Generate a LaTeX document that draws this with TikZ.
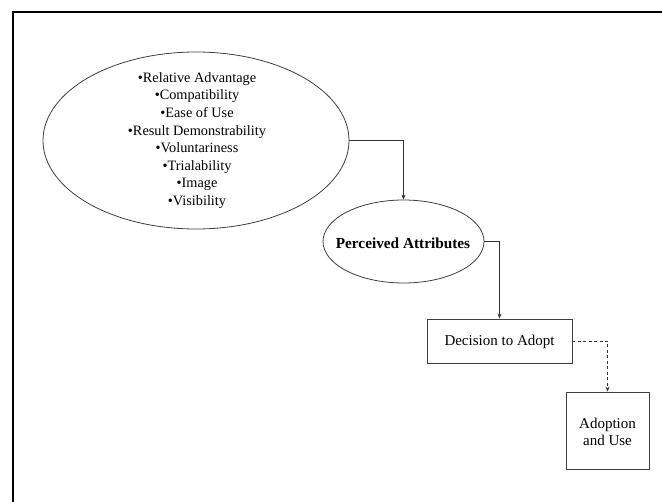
\documentclass[tikz,border=0pt]{standalone}
\usepackage{fontspec}
\setmainfont{Liberation Serif}
\usetikzlibrary{arrows.meta,shapes.geometric}
\begin{document}
\begin{tikzpicture}[x=1pt,y=-1pt,
  lbl/.style={font=\fontsize{14.3}{17.6}\selectfont, align=center},
  oval/.style={draw=black!75, line width=0.8pt, ellipse, inner sep=0pt},
  boxnode/.style={draw=black!75, line width=0.8pt, inner sep=0pt},
  conn/.style={draw=black!80, line width=0.7pt, -{Stealth[length=5pt,width=4pt]}},
  dconn/.style={conn, dash pattern=on 3pt off 2.5pt}]
\useasboundingbox (0,0) rectangle (662,502);
\fill[white] (0,0) rectangle (662,502);
\draw[line width=2.2pt] (13,502) -- (13,12) -- (662,12);
\node[oval, minimum width=306pt, minimum height=177pt] (attrs) at (196,140.5) {};
\node[lbl] (list) at (197,140.5) {%
\textbullet Relative Advantage\\
\textbullet Compatibility\\
\textbullet Ease of Use\\
\textbullet Result Demonstrability\\
\textbullet Voluntariness\\
\textbullet Trialability\\
\textbullet Image\\
\textbullet Visibility};
\node[oval, minimum width=161pt, minimum height=83pt] (pa) at (403.5,241.5) {};
\node[font=\fontsize{15.3}{17}\selectfont\bfseries] (patext) at (403,243) {Perceived Attributes};
\node[boxnode, minimum width=145pt, minimum height=44pt] (dec) at (499.5,341) {};
\node[lbl, font=\fontsize{15}{17.6}\selectfont] (dectext) at (499.5,342) {Decision to Adopt};
\node[boxnode, minimum width=83pt, minimum height=77pt] (adopt) at (607.5,430.5) {};
\node[lbl, font=\fontsize{15}{17.6}\selectfont] (adopttext) at (607.5,432) {Adoption\\and Use};
\draw[conn] (attrs.east) -| (pa.north);
\draw[conn] (pa.east) -| (dec.north);
\draw[dconn] (dec.east) -| (adopt.north);
\end{tikzpicture}
\end{document}
